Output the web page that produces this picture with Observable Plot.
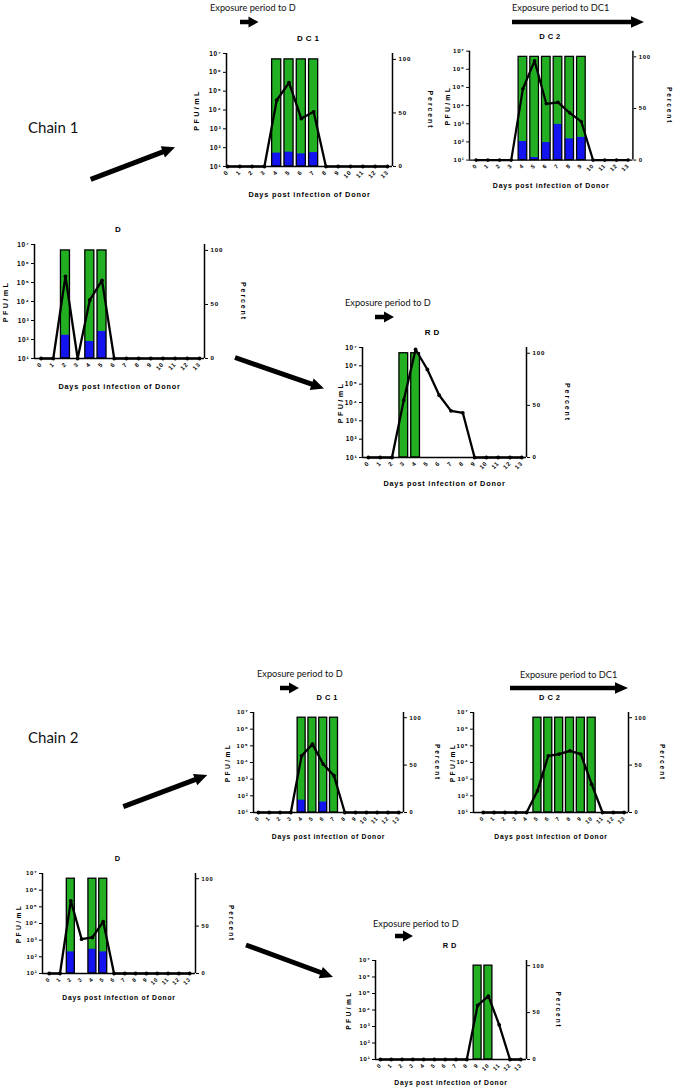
<!DOCTYPE html>
<html><head><meta charset="utf-8">
<script src="https://cdn.jsdelivr.net/npm/d3@7"></script>
<script src="https://cdn.jsdelivr.net/npm/@observablehq/plot@0.6"></script>
<style>
body{margin:0;background:#fff;}
#page{position:relative;width:685px;height:1089px;overflow:hidden;background:#fff;}
.panel{position:absolute;}
.panel svg{overflow:visible;}
#overlay{position:absolute;left:0;top:0;pointer-events:none;}
</style></head><body><div id="page"></div>
<script>
// ---------- DATA ----------
const days = [0,1,2,3,4,5,6,7,8,9,10,11,12,13];
const yTicks = [10,100,1e3,1e4,1e5,1e6,1e7];
const pctTicks = [0,50,100];

// Chain 1
const c1DC1Pfu = [10,10,10,10,33000,280000,3500,8000,10,10,10,10,10,10];
const c1DC1BarDays = [4,5,6,7];
const c1DC1BluePct = [12.5,13.4,11.8,13];

const c1DC2Pfu = [10,10,10,10,85000,2900000,12600,15000,4000,1300,10,10,10,10];
const c1DC2BarDays = [4,5,6,7,8,9];
const c1DC2BluePct = [18,2.5,17,34.6,20.6,22];

const c1DPfu = [10,10,210000,10,12000,130000,10,10,10,10,10,10,10,10];
const c1DBarDays = [2,4,5];
const c1DBluePct = [21.5,15.7,25];

const c1RDPfu = [10,10,10,13500,7800000,630000,25000,3500,2750,10,10,10,10,10];
const c1RDBarDays = [3,4];
const c1RDBluePct = [0,0];

// Chain 2
const c2DC1Pfu = [10,10,10,10,25000,126000,8000,1600,10,10,10,10,10,10];
const c2DC1BarDays = [4,5,6,7];
const c2DC1BluePct = [13,0,11,0];

const c2DC2Pfu = [10,10,10,10,10,200,25000,32000,50000,32000,500,10,10,10];
const c2DC2BarDays = [5,6,7,8,9,10];
const c2DC2BluePct = [0,0,0,0,0,0];

const c2DPfu = [10,10,230000,1150,1450,13000,10,10,10,10,10,10,10,10];
const c2DBarDays = [2,4,5];
const c2DBluePct = [22.8,25.6,22.8];

const c2RDPfu = [10,10,10,10,10,10,10,10,10,19000,69000,1260,10,10];
const c2RDBarDays = [9,10];
const c2RDBluePct = [0,0];

// ---------- STYLE / LAYOUT ----------
const GREEN = "#22b022", BLUE = "#1414f0";
const FONT = "'Liberation Sans', Arial, Helvetica, sans-serif";
const PCT_TOP = 105.5; // percent value at the top of the frame
// y scale works in log10(PFU/mL) units (1..7); percent is mapped onto the same range
const pctToY = p => 1 + 6 * p / PCT_TOP;
const yToPct = y => (y - 1) / 6 * PCT_TOP;
const sup = "⁰¹²³⁴⁵⁶⁷⁸⁹";
const ML = 45, MR = 55, MT = 30, MB = 40;

const panels = [
  {title:"DC1", pfu:c1DC1Pfu, barDays:c1DC1BarDays, blue:c1DC1BluePct, fx:226, fy:53, fw:166, fh:113, padL:0.08, padR:0.41, ylDx:-30, prDx:38, xtDy:28, fs:1},
  {title:"DC2", pfu:c1DC2Pfu, barDays:c1DC2BarDays, blue:c1DC2BluePct, fx:471, fy:52, fw:171, fh:114, padL:0.57, padR:0.41, ylDx:-23, prDx:38, xtDy:27, fs:1},
  {title:"D",   pfu:c1DPfu,   barDays:c1DBarDays,   blue:c1DBluePct,   fx:34,  fy:244, fw:170, fh:114, padL:0.54, padR:0.41, ylDx:-29, prDx:39, xtDy:28, fs:1},
  {title:"RD",  pfu:c1RDPfu,  barDays:c1RDBarDays,  blue:c1RDBluePct,  fx:362, fy:347, fw:164, fh:110, padL:0.5,  padR:0.4,  ylDx:-22, prDx:41, xtDy:26, fs:1, titleDx:-11},
  {title:"DC1", pfu:c2DC1Pfu, barDays:c2DC1BarDays, blue:c2DC1BluePct, fx:253, fy:712, fw:150, fh:100, padL:0.46, padR:0.44, ylDx:-26, prDx:34, xtDy:24, fs:0.93},
  {title:"DC2", pfu:c2DC2Pfu, barDays:c2DC2BarDays, blue:c2DC2BluePct, fx:473, fy:712, fw:155, fh:100, padL:0.9,  padR:0.4,  ylDx:-21, prDx:34, xtDy:24, fs:0.93},
  {title:"D",   pfu:c2DPfu,   barDays:c2DBarDays,   blue:c2DBluePct,   fx:42,  fy:873, fw:153, fh:100, padL:0.62, padR:0.54, ylDx:-24, prDx:36, xtDy:24, fs:0.93},
  {title:"RD",  pfu:c2RDPfu,  barDays:c2RDBarDays,  blue:c2RDBluePct,  fx:375, fy:960, fw:151, fh:99,  padL:0.46, padR:0.53, ylDx:-27, prDx:32, xtDy:23, fs:0.93}
];

const page = document.getElementById("page");

function makePanel(cfg) {
  const xd = [-cfg.padL, 13 + cfg.padR];
  const line = days.map((d, i) => ({day: d, pfu: cfg.pfu[i]}));
  const bars = cfg.barDays.map((d, i) => ({day: d, blue: cfg.blue[i]}));
  const hw = 0.37;
  const fs = cfg.fs;
  const chart = Plot.plot({
    width: cfg.fw + ML + MR, height: cfg.fh + MT + MB,
    marginLeft: ML, marginRight: MR, marginTop: MT, marginBottom: MB,
    x: {type: "linear", domain: xd, label: null},
    y: {type: "linear", domain: [1, 7], label: null},
    style: {fontFamily: FONT, background: "transparent", overflow: "visible"},
    marks: [
      Plot.rectY(bars, {x1: d => d.day - hw, x2: d => d.day + hw, y1: pctToY(0), y2: pctToY(100), fill: GREEN}),
      Plot.rectY(bars.filter(d => d.blue > 0), {x1: d => d.day - hw, x2: d => d.day + hw, y1: pctToY(0), y2: d => pctToY(d.blue), fill: BLUE}),
      Plot.rectY(bars, {x1: d => d.day - hw, x2: d => d.day + hw, y1: pctToY(0), y2: pctToY(100), fill: "none", stroke: "black", strokeWidth: 1.3}),
      Plot.ruleX([xd[0]], {stroke: "black", strokeWidth: 1.5}),
      Plot.ruleX([xd[1]], {stroke: "black", strokeWidth: 1.5}),
      Plot.ruleY([1], {stroke: "black", strokeWidth: 1.5}),
      Plot.line(line, {x: "day", y: d => Math.log10(d.pfu), stroke: "black", strokeWidth: 2.3}),
      Plot.dot(line, {x: "day", y: d => Math.log10(d.pfu), r: 1.9, fill: "black"}),
      Plot.axisY({ticks: yTicks.map(v => Math.log10(v)), tickFormat: v => "10" + sup[Math.round(v)], tickSize: 3, tickPadding: 2, fontSize: 6.5 * fs, fontWeight: "bold", label: null}),
      Plot.axisY({anchor: "right", ticks: pctTicks.map(pctToY), tickFormat: v => String(Math.round(yToPct(v))), tickSize: 3, tickPadding: 3, fontSize: 6.2 * fs, fontWeight: "bold", label: null}),
      Plot.axisX({ticks: days, tickFormat: d => String(d), tickRotate: -45, tickSize: 0, tickPadding: 5, fontSize: 6 * fs, fontWeight: "bold", label: null}),
      Plot.text([cfg.title], {text: d => d, frameAnchor: "top", textAnchor: "middle", lineAnchor: "middle", dx: cfg.titleDx || 0, dy: -15, fontSize: 8 * fs, fontWeight: "bold"}),
      Plot.text(["PFU/mL"], {text: d => d, frameAnchor: "left", textAnchor: "middle", lineAnchor: "middle", rotate: -90, dx: cfg.ylDx, fontSize: 7.2 * fs, fontWeight: "bold"}),
      Plot.text(["Percent"], {text: d => d, frameAnchor: "right", textAnchor: "middle", lineAnchor: "middle", rotate: 90, dx: cfg.prDx, fontSize: 7 * fs, fontWeight: "bold"}),
      Plot.text(["Days post infection of Donor"], {text: d => d, frameAnchor: "bottom", textAnchor: "middle", lineAnchor: "middle", dy: cfg.xtDy, fontSize: 7.3 * fs, fontWeight: "bold"})
    ]
  });
  // letter spacing to mimic the spaced-out labels
  d3.select(chart).selectAll("text").each(function() {
    const t = this.textContent;
    let ls = "0.8px";
    if (t === cfg.title) ls = "3px";
    else if (t === "PFU/mL") ls = "2.4px";
    else if (t === "Percent") ls = "1.9px";
    else if (t.startsWith("Days")) ls = (0.8 * fs) + "px";
    this.style.letterSpacing = ls;
  });
  const div = document.createElement("div");
  div.className = "panel";
  div.style.left = (cfg.fx - ML) + "px";
  div.style.top = (cfg.fy - MT) + "px";
  div.appendChild(chart);
  page.appendChild(div);
}
panels.forEach(makePanel);

// ---------- ANNOTATIONS (chain labels, exposure arrows, chain arrows) ----------
const notes = [
  {text: "Chain 1", x: 28, y: 133, size: 15},
  {text: "Chain 2", x: 28, y: 743, size: 15},
  {text: "Exposure period to D", x: 210, y: 10.5, size: 9.2},
  {text: "Exposure period to DC1", x: 512, y: 10.5, size: 9.2},
  {text: "Exposure period to D", x: 345, y: 305.5, size: 9.2},
  {text: "Exposure period to D", x: 257, y: 676.5, size: 9.2},
  {text: "Exposure period to DC1", x: 520, y: 677.5, size: 9.2},
  {text: "Exposure period to D", x: 373, y: 926.5, size: 9.2}
];
const arrows = [
  {x1: 240, y1: 22, x2: 258.5, y2: 22, sw: 4.5, hl: 10, hw: 11},
  {x1: 512, y1: 22, x2: 644, y2: 22, sw: 4.5, hl: 13, hw: 11.5},
  {x1: 375, y1: 317, x2: 394, y2: 317, sw: 4.5, hl: 10, hw: 11},
  {x1: 280, y1: 688, x2: 299, y2: 688, sw: 4.5, hl: 10, hw: 11},
  {x1: 510, y1: 688, x2: 628, y2: 688, sw: 4.5, hl: 13, hw: 11.5},
  {x1: 395, y1: 936, x2: 413, y2: 936, sw: 4.5, hl: 10, hw: 11},
  {x1: 90.7, y1: 179.3, x2: 175, y2: 147.3, sw: 5, hl: 13, hw: 12},
  {x1: 235, y1: 357.5, x2: 324, y2: 388.5, sw: 5, hl: 13, hw: 12},
  {x1: 123.3, y1: 806.7, x2: 207.3, y2: 775, sw: 5, hl: 13, hw: 12},
  {x1: 246, y1: 945, x2: 333, y2: 977, sw: 5, hl: 13, hw: 12}
];
function arrowPoints(a) {
  const dx = a.x2 - a.x1, dy = a.y2 - a.y1, L = Math.hypot(dx, dy);
  const ux = dx / L, uy = dy / L, nx = -uy, ny = ux;
  const bx = a.x2 - ux * a.hl, by = a.y2 - uy * a.hl;
  const p = [
    [a.x1 + nx * a.sw / 2, a.y1 + ny * a.sw / 2],
    [bx + nx * a.sw / 2, by + ny * a.sw / 2],
    [bx + nx * a.hw / 2, by + ny * a.hw / 2],
    [a.x2, a.y2],
    [bx - nx * a.hw / 2, by - ny * a.hw / 2],
    [bx - nx * a.sw / 2, by - ny * a.sw / 2],
    [a.x1 - nx * a.sw / 2, a.y1 - ny * a.sw / 2]
  ];
  return p.map(q => q.join(",")).join(" ");
}
const ov = d3.select(page).append("svg").attr("id", "overlay").attr("width", 685).attr("height", 1089);
ov.selectAll("polygon").data(arrows).join("polygon").attr("points", arrowPoints).attr("fill", "black");
ov.selectAll("text").data(notes).join("text")
  .attr("x", d => d.x).attr("y", d => d.y)
  .attr("font-family", "Lato, 'Open Sans', sans-serif").attr("font-size", d => d.size)
  .attr("fill", "#111").text(d => d.text);
</script>
</body></html>
